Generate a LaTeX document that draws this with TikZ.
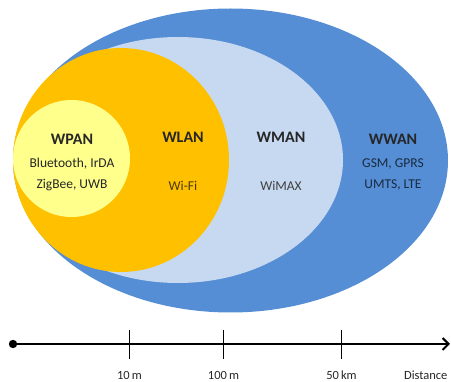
\documentclass[tikz,border=0pt]{standalone}
\usepackage{fontspec}
\setmainfont{Carlito}
\usetikzlibrary{positioning, arrows.meta}

\definecolor{wwanblue}{HTML}{558ED5}
\definecolor{wmanblue}{HTML}{C6D9F1}
\definecolor{wlanorange}{HTML}{FFC000}
\definecolor{wpanyellow}{HTML}{FFFF8C}
\definecolor{labeldark}{HTML}{262626}

\begin{document}
\begin{tikzpicture}[
    x=1pt, y=-1pt,
    title/.style={font=\fontsize{16}{17}\selectfont\bfseries, text=labeldark},
    tech/.style={font=\fontsize{13.5}{21}\selectfont, align=center},
    axis/.style={line width=2.6pt, -{Straight Barb[length=6pt, width=12pt, line width=2pt]}},
    tick/.style={line width=1.6pt},
    dist/.style={font=\fontsize{12.5}{14}\selectfont, text=labeldark},
]
\useasboundingbox (0,0) rectangle (451,382);

% --- Coverage areas ---
\fill[wwanblue] (230.5,160.5) ellipse [x radius=217.5, y radius=152];
\fill[wmanblue] (178,160) ellipse [x radius=165, y radius=123];
\fill[wlanorange] (121,160) ellipse [x radius=108, y radius=112];
\fill[wpanyellow] (71.5,158.5) ellipse [x radius=58.5, y radius=58.5];

% --- Labels ---
\node[title] (wpan) at (72,139) {WPAN};
\node[tech, text=labeldark] (wpantech) at (72,174.5)
    {Bluetooth, IrDA\\ZigBee, UWB};
\node[title] (wlan) at (183,137) {WLAN};
\node[tech, text=wlanorange!30!black] (wlantech) at (183,186) {Wi-Fi};
\node[title] (wman) at (281,137) {WMAN};
\node[tech, text=black!75] (wmantech) at (281,186) {WiMAX};
\node[title] (wwan) at (393,139) {WWAN};
\node[tech, text=wwanblue!30!black] (wwantech) at (393,174)
    {GSM, GPRS\\UMTS, LTE};

% --- Distance axis ---
\coordinate (origin) at (13,344);
\coordinate (far) at (450,344);
\fill (origin) circle [radius=4.2];
\draw[axis] (origin) -- (far);
\foreach \x/\name/\txt in {129.5/ten/10\,m, 223.5/hundred/100\,m, 341.5/fifty/50\,km} {
    \coordinate (\name) at (\x,344);
    \draw[tick] ([yshift=-15pt]\name) -- ([yshift=14pt]\name);
    \node[dist] (\name lbl) at (\x,375) {\txt};
}
\node[dist, anchor=east] (distance) at (451,375) {Distance};
\end{tikzpicture}
\end{document}
